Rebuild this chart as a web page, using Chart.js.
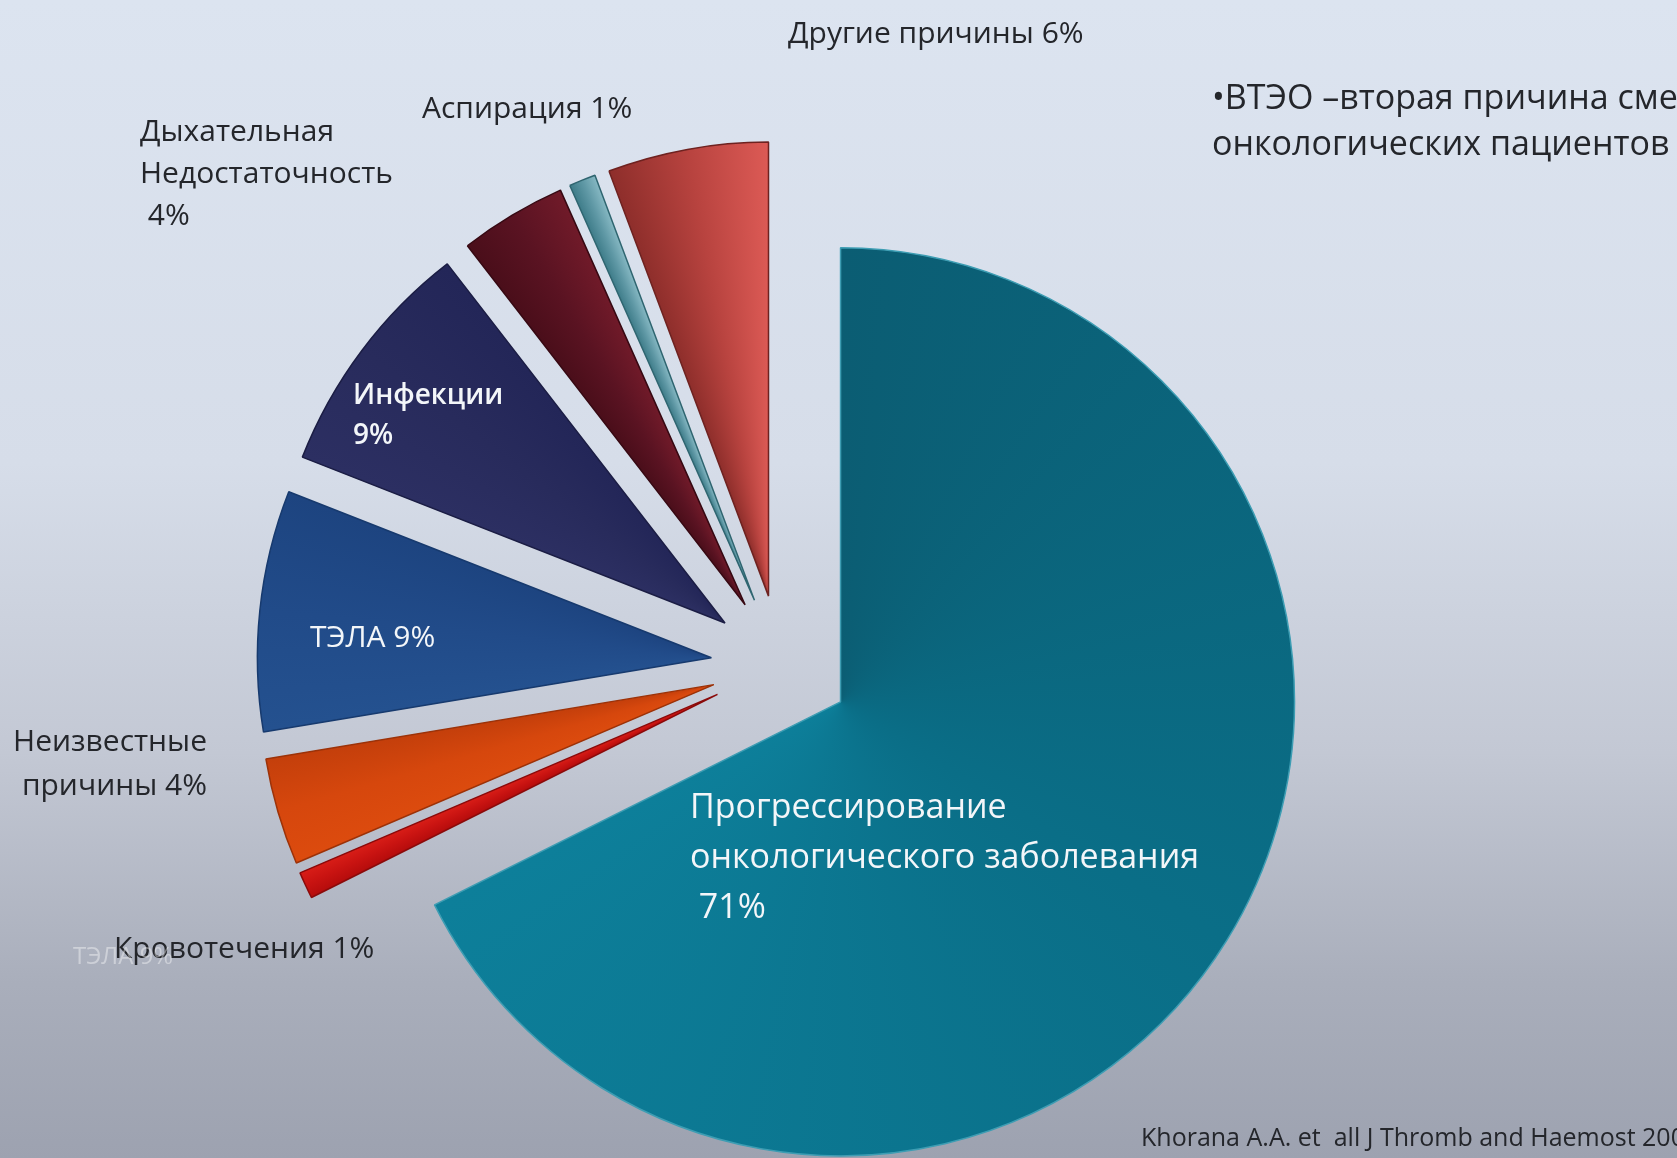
<!DOCTYPE html>
<html>
<head>
<meta charset="utf-8">
<script src="https://cdn.jsdelivr.net/npm/chart.js@4.4.1/dist/chart.umd.min.js"></script>
<style>
    html, body {
        margin: 0;
        padding: 0;
        width: 1677px;
        height: 1158px;
        overflow: hidden;
    }
    body {
        background: linear-gradient(to bottom, #dce4f0 0%, #d6dde9 40%, #c3c8d4 65%, #a9aebb 85%, #9da2b0 100%);
        font-family: "Open Sans", "Noto Sans", sans-serif;
    }
    #stage {
        position: relative;
        width: 1677px;
        height: 1158px;
    }
    #causes {
        position: absolute;
        left: 0;
        top: 0;
    }
    .lbl {
        position: absolute;
        white-space: pre;
        color: #24262b;
        font-size: 30px;
        line-height: 42px;
    }
    .lbl.inside {
        color: #f3f6f9;
    }
</style>
</head>
<body>
<div id="stage">
    <canvas id="causes" width="1677" height="1158"></canvas>
</div>
<script>
// causes of death, clockwise from 12 o'clock
const categories = [
    ["Прогрессирование", "онкологического заболевания"],
    ["Кровотечения"],
    ["Неизвестные", "причины"],
    ["ТЭЛА"],
    ["Инфекции"],
    ["Дыхательная", "Недостаточность"],
    ["Аспирация"],
    ["Другие причины"]
];
const shares = [71, 1, 4, 9, 9, 4, 1, 6];

// conic shading per slice: colour at the start edge, middle, end edge
const sliceShades = [
    ["#0b5d73", "#0a6e87", "#0d7f9a"],
    ["#b50c0c", "#c81311", "#d81d17"],
    ["#dc4b0e", "#d6470d", "#c43f0b"],
    ["#24518f", "#214b89", "#1d4480"],
    ["#2c2f62", "#282b5c", "#232658"],
    ["#4a0e1a", "#5a1322", "#701a29"],
    ["#3e7c89", "#5f98a5", "#86b8c3"],
    ["#8e2e2b", "#b8433f", "#dc5a55"]
];
const edgeColors = ["#3d9db3", "#8a0a0a", "#9c3208", "#173a6e", "#1b1d44", "#360812", "#2f6570", "#6e2220"];

const PIE_RADIUS = 454;
const EXPLODE = 70; // every slice pulled out this far along its bisector

const ctx = document.getElementById("causes");
const total = shares.reduce((a, b) => a + b, 0);

function sliceFill(context) {
    const chart = context.chart;
    const area = chart.chartArea;
    const i = context.dataIndex;
    if (!area) {
        return sliceShades[i][1];
    }
    let before = 0;
    for (let k = 0; k < i; k++) before += shares[k];
    const part = shares[i] / total;
    const start = -Math.PI / 2 + 2 * Math.PI * before / total;
    const mid = start + Math.PI * part;
    const cx = (area.left + area.right) / 2 + Math.cos(mid) * EXPLODE;
    const cy = (area.top + area.bottom) / 2 + Math.sin(mid) * EXPLODE;
    const g = chart.ctx.createConicGradient(start, cx, cy);
    g.addColorStop(0, sliceShades[i][0]);
    g.addColorStop(part / 2, sliceShades[i][1]);
    g.addColorStop(part, sliceShades[i][2]);
    g.addColorStop(Math.min(1, part + 0.001), sliceShades[i][2]);
    return g;
}

// move each arc out from the centre without narrowing it
const explode = {
    id: "explode",
    afterDatasetUpdate(chart, args) {
        args.meta.data.forEach((arc) => {
            const mid = (arc.startAngle + arc.endAngle) / 2;
            arc.x += Math.cos(mid) * EXPLODE;
            arc.y += Math.sin(mid) * EXPLODE;
        });
    }
};

var chart = new Chart(ctx, {
    type: "pie",
    data: {
        labels: categories.map(c => c.join(" ")),
        datasets: [{
            data: shares,
            backgroundColor: sliceFill,
            borderColor: edgeColors,
            borderWidth: 1.5,
            radius: PIE_RADIUS
        }]
    },
    options: {
        responsive: false,
        animation: false,
        events: [],
        layout: {
            padding: { left: 0, right: 115, top: 172, bottom: 0 }
        },
        plugins: {
            legend: { display: false },
            tooltip: { enabled: false }
        }
    },
    plugins: [explode]
});

// where each slice's caption sits
const captionSpots = [
    { left: 690, top: 780, size: 34, lh: 50, inside: true, pctLine: true },
    { left: 114, top: 926 },
    { right: 1470, top: 718, lh: 44 },
    { left: 310, top: 615, inside: true },
    { left: 353, top: 373, size: 28, lh: 40, inside: true, bold: true, pctLine: true },
    { left: 140, top: 109, pctLine: true },
    { left: 422, top: 86 },
    { left: 788, top: 11 }
];

const stage = document.getElementById("stage");

function addText(text, spot, extraClass) {
    const d = document.createElement("div");
    d.className = "lbl" + (extraClass ? " " + extraClass : "");
    d.textContent = text;
    if (spot.left !== undefined) d.style.left = spot.left + "px";
    if (spot.right !== undefined) {
        d.style.right = spot.right + "px";
        d.style.textAlign = "right";
    }
    d.style.top = spot.top + "px";
    if (spot.size) d.style.fontSize = spot.size + "px";
    if (spot.lh) d.style.lineHeight = spot.lh + "px";
    if (spot.bold) d.style.fontWeight = "600";
    if (spot.color) d.style.color = spot.color;
    stage.appendChild(d);
    return d;
}

categories.forEach((lines, i) => {
    const spot = captionSpots[i];
    const pct = shares[i] + "%";
    let rows = lines.slice();
    if (spot.pctLine) {
        rows.push((spot.bold ? "" : "\u00a0") + pct);
    } else {
        rows[rows.length - 1] += " " + pct;
    }
    addText(rows.join("\n"), spot, spot.inside ? "inside" : "");
});

// slide text around the chart
addText("ТЭЛА 9%", { left: 73, top: 941, size: 24, lh: 28, color: "rgba(255,255,255,0.4)" });
addText("•ВТЭО –вторая причина смерти\nонкологических пациентов", { left: 1212, top: 73, size: 34, lh: 46 });
addText("Khorana A.A. et  all J Thromb and Haemost 2007", { left: 1141, top: 1121, size: 25, lh: 30 });
</script>
</body>
</html>
